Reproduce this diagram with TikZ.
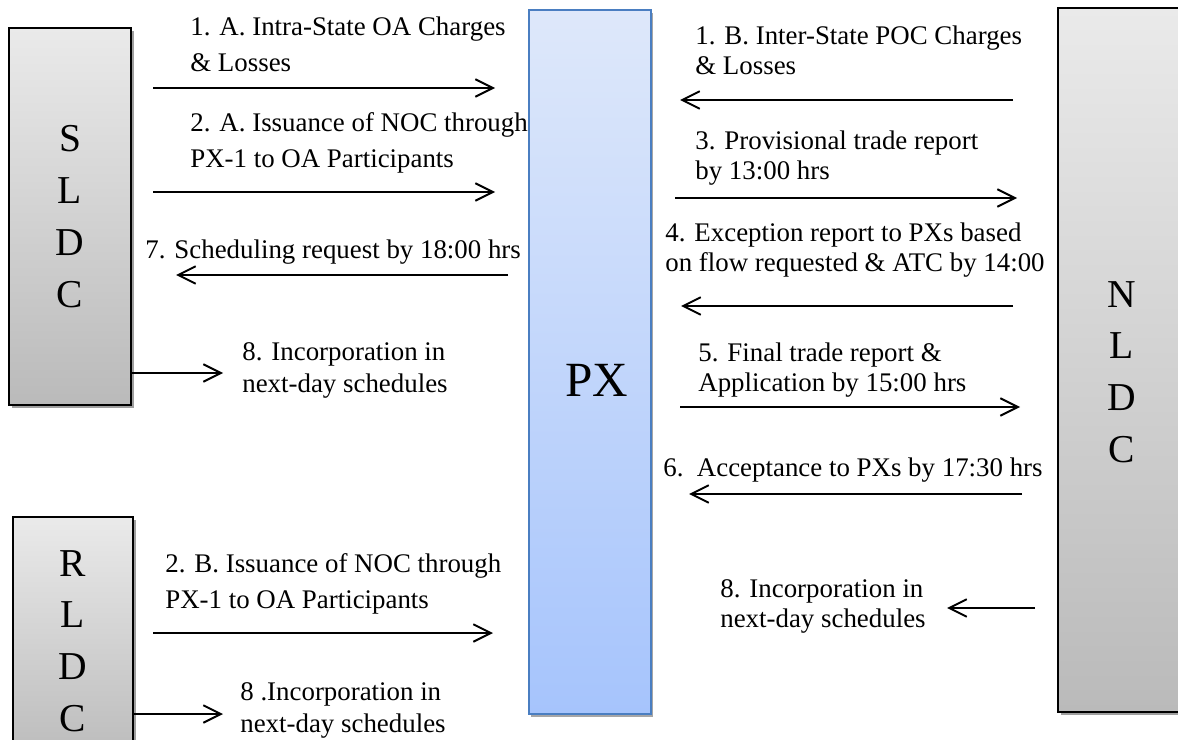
\documentclass[tikz,border=0pt]{standalone}
\usepackage{fontspec}
\setmainfont{Liberation Serif}
\usetikzlibrary{arrows.meta,shadows}

\definecolor{pxtop}{RGB}{222,232,250}
\definecolor{pxbot}{RGB}{166,196,252}
\definecolor{pxline}{RGB}{74,126,193}
\definecolor{ldctop}{RGB}{234,234,234}
\definecolor{ldcbot}{RGB}{186,186,186}

\tikzset{
	flow/.style={line width=1.1pt, -{Straight Barb[length=10pt,width=10pt,line width=1.1pt]}},
	ldcbox/.style={draw=black, line width=1.1pt, top color=ldctop, bottom color=ldcbot,
		drop shadow={shadow xshift=1.6pt, shadow yshift=-1.6pt, fill=gray!75, opacity=1}},
	pxbox/.style={draw=pxline, line width=1.1pt, top color=pxtop, bottom color=pxbot,
		drop shadow={shadow xshift=1.2pt, shadow yshift=-1.6pt, fill=gray!70, opacity=1}},
	boxtxt/.style={align=center, inner sep=0pt, font=\fontsize{22.5}{29.5}\selectfont},
	lbl/.style={anchor=north west, inner sep=0pt, align=left, font=\fontsize{15.3}{20.5}\selectfont},
	lblr/.style={lbl, font=\fontsize{15.3}{17.3}\selectfont},
	lbls/.style={lbl, font=\fontsize{15.3}{18.1}\selectfont}
}

\begin{document}
\begin{tikzpicture}[x=0.02cm, y=-0.02cm]
		\clip (0,0) rectangle (1178,740);
		
		% boxes
		\node[ldcbox, minimum width=2.44cm, minimum height=7.54cm, boxtxt] (sldc) at (70,216.5) {S\\L\\D\\C};
		\node[ldcbox, minimum width=2.4cm, minimum height=4.96cm, boxtxt] (rldc) at (73,641) {R\\L\\D\\C};
		\node[pxbox, minimum width=2.44cm, minimum height=14.08cm] (px) at (590,362) {};
		\node[font=\fontsize{28}{32}\selectfont] (pxtxt) at (597,380) {PX};
		\node[ldcbox, minimum width=4.4cm, minimum height=14.08cm] (nldc) at (1168,360) {};
		\node[boxtxt] (nldctxt) at (1122,372) {N\\L\\D\\C};
		
		% labels, left
		\node[lbl] (l1a) at (190,16) {1. A. Intra-State OA Charges\\\& Losses};
		\node[lbl] (l2a) at (190,112) {2. A. Issuance of NOC through\\PX-1 to OA Participants};
		\node[lbl] (l7) at (145,239) {7. Scheduling request by 18:00 hrs};
		\node[lbls] (l8s) at (242,342) {8. Incorporation in\\next-day schedules};
		\node[lbl] (l2b) at (165,553) {2. B. Issuance of NOC through\\PX-1 to OA Participants};
		\node[lbls] (l8r) at (240,682) {8 .Incorporation in\\next-day schedules};
		
		% labels, right
		\node[lblr] (l1b) at (695,25) {1. B. Inter-State POC Charges\\\& Losses};
		\node[lblr] (l3) at (695,130) {3. Provisional trade report\\by 13:00 hrs};
		\node[lblr] (l4) at (665,222) {4. Exception report to PXs based\\on flow requested \& ATC by 14:00};
		\node[lblr] (l5) at (698,342) {5. Final trade report \&\\Application by 15:00 hrs};
		\node[lblr] (l6) at (663,457) {6.\ \ Acceptance to PXs by 17:30 hrs};
		\node[lblr] (l8n) at (720,579) {8. Incorporation in\\next-day schedules};
		
		% arrow ends
		\coordinate (a1s) at (153,88);  \coordinate (a1e) at (495,88);
		\coordinate (a2s) at (153,192); \coordinate (a2e) at (495,192);
		\coordinate (a7s) at (508,275); \coordinate (a7e) at (176,275);
		\coordinate (a8s) at (223,373);
		\coordinate (b2s) at (153,633); \coordinate (b2e) at (493,633);
		\coordinate (b8s) at (223,714);
		\coordinate (c1s) at (1013,100); \coordinate (c1e) at (680,100);
		\coordinate (c3s) at (675,198);  \coordinate (c3e) at (1017,198);
		\coordinate (c4s) at (1013,306); \coordinate (c4e) at (681,306);
		\coordinate (c5s) at (680,407);  \coordinate (c5e) at (1020,407);
		\coordinate (c6s) at (1022,494); \coordinate (c6e) at (689,494);
		\coordinate (c8s) at (1035,608); \coordinate (c8e) at (947,608);
		
		\draw[flow] (a1s) -- (a1e);
		\draw[flow] (a2s) -- (a2e);
		\draw[flow] (a7s) -- (a7e);
		\draw[flow] (sldc.east |- a8s) -- (a8s);
		\draw[flow] (b2s) -- (b2e);
		\draw[flow] (rldc.east |- b8s) -- (b8s);
		\draw[flow] (c1s) -- (c1e);
		\draw[flow] (c3s) -- (c3e);
		\draw[flow] (c4s) -- (c4e);
		\draw[flow] (c5s) -- (c5e);
		\draw[flow] (c6s) -- (c6e);
		\draw[flow] (c8s) -- (c8e);
		
\end{tikzpicture}
\end{document}
